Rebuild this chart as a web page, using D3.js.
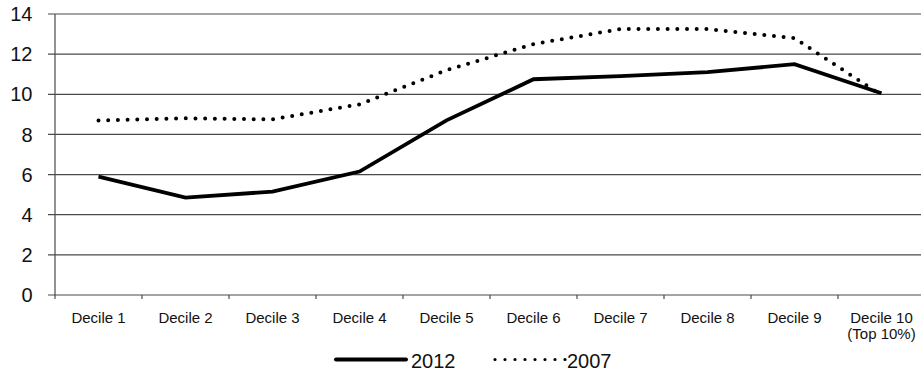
<!DOCTYPE html>
<html>
<head>
<meta charset="utf-8">
<script src="https://cdn.jsdelivr.net/npm/d3@7/dist/d3.min.js"></script>
<style>
  body { margin: 0; background: #fff; }
  svg { display: block; font-family: "Liberation Sans", Arial, Helvetica, sans-serif; }
</style>
</head>
<body>
<svg id="chart" width="921" height="372"></svg>
<script>
// Decile categories (second line of a label after "\n")
const categories = ["Decile 1", "Decile 2", "Decile 3", "Decile 4", "Decile 5",
                    "Decile 6", "Decile 7", "Decile 8", "Decile 9", "Decile 10\n(Top 10%)"];
const values2012 = [5.9, 4.85, 5.15, 6.15, 8.7, 10.75, 10.9, 11.1, 11.5, 10.05];
const values2007 = [8.7, 8.8, 8.75, 9.5, 11.2, 12.5, 13.25, 13.25, 12.8, 9.95];
const yTicks = [0, 2, 4, 6, 8, 10, 12, 14];

const svg = d3.select("#chart");
const plotLeft = 55, plotRight = 925, plotTop = 14, plotBottom = 295;

const x = d3.scaleBand().domain(categories).range([plotLeft, plotRight]);
const y = d3.scaleLinear().domain([0, 14]).range([plotBottom, plotTop]);

// horizontal gridlines with left tick stubs
svg.append("g").selectAll("line").data(yTicks).join("line")
  .attr("x1", plotLeft - 7).attr("x2", plotRight)
  .attr("y1", d => y(d)).attr("y2", d => y(d))
  .attr("stroke", "#4a4a4a").attr("stroke-width", 1.2);

// y axis line
svg.append("line").attr("x1", plotLeft).attr("x2", plotLeft)
  .attr("y1", y(14)).attr("y2", y(0))
  .attr("stroke", "#4a4a4a").attr("stroke-width", 1.2);

// y tick labels
svg.append("g").selectAll("text").data(yTicks).join("text")
  .attr("x", 32.5).attr("y", d => y(d)).attr("dy", "0.36em")
  .attr("text-anchor", "end").attr("font-size", 20).attr("fill", "#111")
  .text(d => d);

// x axis tick marks at band boundaries
const boundaries = categories.map(c => x(c)).concat([x(categories[categories.length - 1]) + x.bandwidth()]);
svg.append("g").selectAll("line").data(boundaries).join("line")
  .attr("x1", d => d).attr("x2", d => d)
  .attr("y1", plotBottom).attr("y2", plotBottom + 4)
  .attr("stroke", "#4a4a4a").attr("stroke-width", 1.2);

// x category labels
const xl = svg.append("g").selectAll("text").data(categories).join("text")
  .attr("x", d => x(d) + x.bandwidth() / 2)
  .attr("y", 323)
  .attr("text-anchor", "middle").attr("font-size", 15).attr("fill", "#111");
xl.each(function(d) {
  const parts = d.split("\n");
  const t = d3.select(this);
  parts.forEach((p, i) => {
    t.append("tspan").attr("x", x(d) + x.bandwidth() / 2).attr("dy", i === 0 ? 0 : 16).text(p);
  });
});

const line = d3.line()
  .x((d, i) => x(categories[i]) + x.bandwidth() / 2)
  .y(d => y(d));

// 2007 dotted series
svg.append("path").datum(values2007)
  .attr("d", line).attr("fill", "none").attr("stroke", "#000")
  .attr("stroke-width", 4).attr("stroke-linecap", "round")
  .attr("stroke-dasharray", "0 9.7");

// 2012 solid series
svg.append("path").datum(values2012)
  .attr("d", line).attr("fill", "none").attr("stroke", "#000")
  .attr("stroke-width", 3.8).attr("stroke-linejoin", "miter");

// legend
const lg = svg.append("g").attr("font-size", 20).attr("fill", "#111");
lg.append("line").attr("x1", 336).attr("x2", 406).attr("y1", 359.5).attr("y2", 359.5)
  .attr("stroke", "#000").attr("stroke-width", 4).attr("stroke-linecap", "round");
lg.append("text").attr("x", 411).attr("y", 368).text("2012");
lg.append("line").attr("x1", 495).attr("x2", 566).attr("y1", 359.5).attr("y2", 359.5)
  .attr("stroke", "#000").attr("stroke-width", 3.2).attr("stroke-linecap", "round")
  .attr("stroke-dasharray", "0 10");
lg.append("text").attr("x", 567).attr("y", 368).text("2007");
</script>
</body>
</html>
